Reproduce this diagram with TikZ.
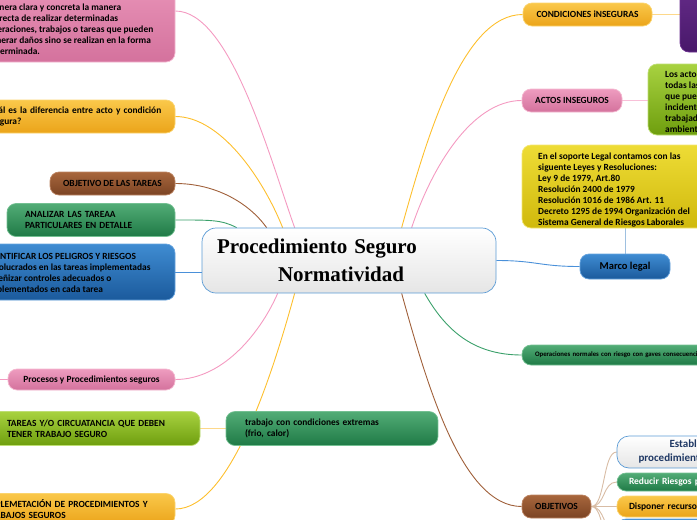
\documentclass[tikz,border=0pt]{standalone}
\usepackage{fontspec}
\setmainfont{Carlito}
\newfontfamily\titlefont{Liberation Serif}
\usetikzlibrary{calc}
\pgfdeclarelayer{bg}
\pgfsetlayers{bg,main}
\hyphenpenalty=10000
\definecolor{pinkT}{HTML}{EE9CBF}
\definecolor{pinkB}{HTML}{D4729D}
\definecolor{pinkD}{HTML}{F4B8D0}
\definecolor{orT}{HTML}{FAC84A}
\definecolor{orB}{HTML}{EBA41A}
\definecolor{orD}{HTML}{FBD46E}
\definecolor{brT}{HTML}{A8663C}
\definecolor{brB}{HTML}{7B4424}
\definecolor{brD}{HTML}{BC8462}
\definecolor{grT}{HTML}{52AC76}
\definecolor{grB}{HTML}{1F7A46}
\definecolor{grD}{HTML}{74C092}
\definecolor{lgT}{HTML}{A8D240}
\definecolor{lgB}{HTML}{6E9E0E}
\definecolor{lgD}{HTML}{BEDE74}
\definecolor{blT}{HTML}{3F8CD2}
\definecolor{blB}{HTML}{1B5A9C}
\definecolor{blD}{HTML}{66A3DE}
\definecolor{yeT}{HTML}{EEDC36}
\definecolor{yeB}{HTML}{D0B90C}
\definecolor{yeD}{HTML}{F3E572}
\definecolor{puT}{HTML}{6C3090}
\definecolor{puB}{HTML}{48186A}
\definecolor{ctrD}{HTML}{5B9BD5}
\definecolor{navy}{HTML}{1F3864}
\definecolor{lkPink}{HTML}{F49AC1}
\definecolor{lkOr}{HTML}{FDBF2D}
\definecolor{lkBr}{HTML}{A0603A}
\definecolor{lkGr}{HTML}{3AA06A}
\definecolor{lkBl}{HTML}{4A90D9}
\definecolor{lkLb}{HTML}{9EC0E0}
\definecolor{lkTan}{HTML}{D8BCA4}
\definecolor{lkLor}{HTML}{FDD88A}
\definecolor{lkLpk}{HTML}{F8C0D8}
\begin{document}
\begin{tikzpicture}[x=1pt,y=-1pt,
  box/.style={rounded corners=9pt, line width=0.7pt, font=\bfseries\fontsize{9.4}{11}\selectfont, inner ysep=0pt, text=black},
  lbox/.style={box, align=left},
  cbox/.style={box, align=center},
  btext/.style={anchor=west, align=left, inner sep=0pt, font=\bfseries\fontsize{9.4}{11}\selectfont, text=black},
  pinkc/.style={top color=pinkT, bottom color=pinkB, draw=pinkD},
  orc/.style={top color=orT, bottom color=orB, draw=orD},
  brc/.style={top color=brT, bottom color=brB, draw=brD},
  grc/.style={top color=grT, bottom color=grB, draw=grD},
  lgc/.style={top color=lgT, bottom color=lgB, draw=lgD},
  blc/.style={top color=blT, bottom color=blB, draw=blD},
  yec/.style={top color=yeT, bottom color=yeB, draw=yeD},
  puc/.style={top color=puT, bottom color=puB, draw=puT},
  whc/.style={top color=white, bottom color=black!10, draw=ctrD},
  link/.style={line width=0.9pt}
]
\useasboundingbox (0,0) rectangle (697,520);
\clip (0,0) rectangle (697,520);

% centre
\node[box, whc, rounded corners=14pt, align=left, minimum width=294, minimum height=65,
  text width=264, inner xsep=15, font=\titlefont\bfseries\fontsize{21}{28}\selectfont] (c) at (349,260.5)
  {Procedimiento Seguro\\\hspace*{61pt}Normatividad};

% left side
\node[box, pinkc, minimum width=203, minimum height=102] (pinkbig) at (73.5,11) {};
\node[btext] (pinktxt) at (-13,29)
  {manera clara y concreta la manera\\correcta de realizar determinadas\\operaciones, trabajos o tareas que pueden\\generar daños sino se realizan en la forma\\determinada.};
\node[lbox, orc, minimum width=197, minimum height=33, text width=185, inner xsep=6] (cual) at (76.5,116.5)
  {¿Cuál es la diferencia entre acto y condición\\insegura?};
\node[cbox, brc, minimum width=125, minimum height=23] (objtareas) at (112.5,183.5) {OBJETIVO DE LAS TAREAS};
\node[lbox, grc, minimum width=168, minimum height=33, text width=132, inner xsep=18] (analizar) at (91,220)
  {ANALIZAR LAS TAREAA\\PARTICULARES EN DETALLE};
\node[box, blc, minimum width=202, minimum height=56] (identificar) at (74,272) {};
\node[btext] (identxt) at (-13,273.5)
  {IDENTIFICAR LOS PELIGROS Y RIESGOS\\involucrados en las tareas implementadas\\diseñizar controles adecuados o\\implementados en cada tarea};
\node[cbox, pinkc, minimum width=167, minimum height=21] (procesos) at (91.5,379.5) {Procesos y Procedimientos seguros};
\coordinate (procL) at (-20,379.5);
\node[lbox, lgc, minimum width=210, minimum height=34, text width=176, inner xsep=17] (tareas) at (95,428.5)
  {TAREAS Y/O CIRCUATANCIA QUE DEBEN\\TENER TRABAJO SEGURO};
\node[lbox, grc, minimum width=212, minimum height=34, text width=174, inner xsep=19] (trabajo) at (332,428.5)
  {trabajo con condiciones extremas\\(frio, calor)};
\node[lbox, orc, minimum width=205, minimum height=31, text width=175, inner xsep=15] (impl) at (72.5,509)
  {IMPLEMETACIÓN DE PROCEDIMIENTOS Y\\TRABAJOS SEGUROS};

% right side
\node[cbox, orc, minimum width=129, minimum height=23] (cond) at (587.5,14.5) {CONDICIONES iNSEGURAS};
\node[box, puc, minimum width=80, minimum height=82] (purple) at (720,11) {};
\node[cbox, pinkc, minimum width=100, minimum height=23] (actos) at (572,100.5) {ACTOS INSEGUROS};
\node[box, lgc, minimum width=260, minimum height=71] (losactos) at (778,99.5) {};
\node[btext] (losactxt) at (665,102)
  {Los actos inseguros son\\todas las acciones y decisiones humanas\\que pueden causar una situación insegura o\\incidente, con consecuencias para el\\trabajador, la producción, el medio\\ambiente y otras personas.};
\node[box, yec, minimum width=200, minimum height=83] (legal) at (622,186.5) {};
\node[btext] (legaltxt) at (538,189.5)
  {En el soporte Legal contamos con las\\siguente Leyes y Resoluciones:\\Ley 9 de 1979, Art.80\\Resolución 2400 de 1979\\Resolución 1016 de 1986 Art. 11\\Decreto 1295 de 1994 Organización del\\Sistema General de Riesgos Laborales};
\node[cbox, blc, minimum width=90, minimum height=25, font=\bfseries\fontsize{10.5}{12}\selectfont] (marco) at (625,266.5) {Marco legal};
\node[lbox, grc, minimum width=260, minimum height=20, text width=234, inner xsep=13, font=\bfseries\fontsize{6.8}{7.5}\selectfont] (oper) at (652,355)
  {Operaciones normales con riesgo con gaves consecuencias};
\node[cbox, brc, minimum width=69, minimum height=23] (objetivos) at (556.5,506.5) {OBJETIVOS};
\node[cbox, whc, rounded corners=12pt, minimum width=152, minimum height=32, text=navy, font=\bfseries\fontsize{11}{14}\selectfont] (estab) at (693,452)
  {Establecer\\procedimientos seguros};
\node[lbox, grc, minimum width=190, minimum height=18, text width=166, inner xsep=12, text=white, font=\bfseries\fontsize{9.5}{11}\selectfont] (reducir) at (712,482)
  {Reducir Riesgos profesionales};
\node[lbox, orc, minimum width=190, minimum height=21, text width=166, inner xsep=12, font=\bfseries\fontsize{9.5}{11}\selectfont] (disponer) at (712,506.5)
  {Disponer recursos};
\node[box, blc, minimum width=190, minimum height=26] (cuarto) at (712,532) {};
\coordinate (objmore) at (617,560);

\begin{pgfonlayer}{bg}
\draw[link, lkPink] (pinkbig.east) .. controls +(55,0) and +(-25,-70) .. ([xshift=93pt]c.north west);
\draw[link, lkOr] (cual.east) .. controls +(45,0) and +(-20,-50) .. ([xshift=81pt]c.north west);
\draw[link, lkBr] (objtareas.east) .. controls +(40,0) and +(-18,-25) .. ([xshift=65pt]c.north west);
\draw[link, lkGr] (analizar.east) .. controls +(35,0) and +(-15,-8) .. ([xshift=35pt]c.north west);
\draw[link, lkBl] (identificar.east) -- (identificar.east -| c.west);
\draw[link, lkPink] (procesos.east) .. controls +(50,0) and +(-15,35) .. ([xshift=76pt]c.south west);
\draw[link, lkPink] (procesos.west) -- (procL);
\draw[link, lkOr] (impl.east) .. controls +(55,0) and +(-22,80) .. ([xshift=93pt]c.south west);
\draw[link, lkLor] (trabajo.west) -- (tareas.east);
\draw[link, lkOr] (cond.west) .. controls +(-60,0) and +(25,-90) .. ([xshift=200pt]c.north west);
\draw[link, lkPink] (actos.west) .. controls +(-50,0) and +(20,-60) .. ([xshift=210pt]c.north west);
\draw[link, lkLor] (cond.east) -- (cond.east -| purple.west);
\draw[link, lkLpk] (actos.east) -- (actos.east -| losactos.west);
\draw[link, lkBl] (c.east) .. controls +(40,0) and +(-40,0) .. (marco.west);
\draw[link, lkLb] (marco.north) -- (marco.north |- legal.south);
\draw[link, lkGr] (oper.west) .. controls +(-50,0) and +(20,35) .. ([xshift=223pt]c.south west);
\draw[link, lkBr] (objetivos.west) .. controls +(-60,0) and +(25,90) .. ([xshift=200pt]c.south west);
\foreach \t in {estab, reducir, disponer, cuarto}
  \draw[link, lkTan] (objetivos.east) .. controls +(14,0) and +(-14,0) .. (\t.west);
\draw[link, lkTan] (objetivos.east) .. controls +(14,0) and +(-14,0) .. (objmore);
\end{pgfonlayer}
\end{tikzpicture}
\end{document}
